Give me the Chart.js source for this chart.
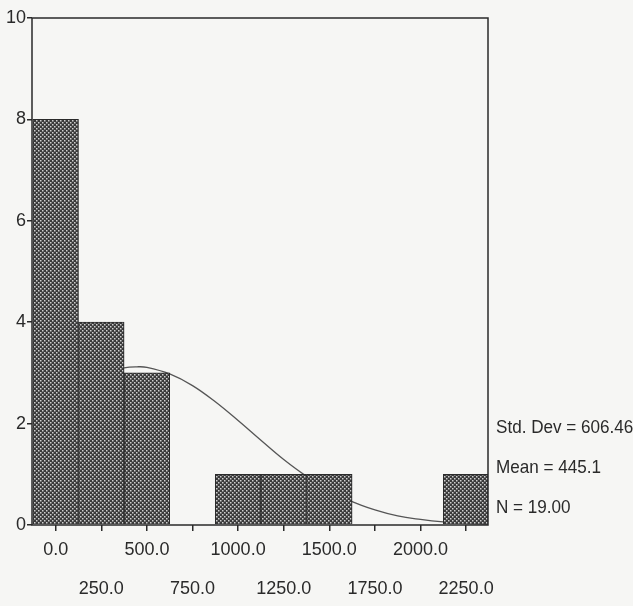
<!DOCTYPE html>
<html>
<head>
<meta charset="utf-8">
<script src="https://cdn.jsdelivr.net/npm/chart.js@4"></script>
<style>
  html, body { margin: 0; padding: 0; background: #f6f6f4; }
  #wrap { width: 633px; height: 606px; }
</style>
</head>
<body>
<div id="wrap"><canvas id="chart" width="633" height="606"></canvas></div>
<script>
// histogram bins (midpoints) and counts
const binMids = [0, 250, 500, 750, 1000, 1250, 1500, 1750, 2000, 2250];
const counts = [8, 4, 3, 0, 1, 1, 1, 0, 0, 1];

// normal curve
const curveX = [-125, 0, 125, 250, 375, 445, 500, 625, 750, 875, 1000, 1125, 1250, 1375, 1500, 1625, 1750, 1875, 2000, 2125, 2250, 2375];
const curveY = [1.9, 2.4, 2.77, 2.99, 3.1, 3.12, 3.11, 2.98, 2.75, 2.43, 2.06, 1.67, 1.29, 0.96, 0.69, 0.46, 0.3, 0.18, 0.11, 0.06, 0.03, 0.01];

const xTicks = [0, 250, 500, 750, 1000, 1250, 1500, 1750, 2000, 2250];
const yTicks = [0, 2, 4, 6, 8, 10];
const statLines = ["Std. Dev = 606.46", "Mean = 445.1", "N = 19.00"];

const FONT = "'Liberation Sans', Arial, sans-serif";
const INK = "#2a2a2a";

function dotPattern() {
  const c = document.createElement("canvas");
  c.width = 4;
  c.height = 4;
  const g = c.getContext("2d");
  g.fillStyle = "#3a3a3a";
  g.fillRect(0, 0, 4, 4);
  g.fillStyle = "#cfcfcf";
  g.fillRect(0, 0, 1.5, 1.5);
  g.fillRect(2, 2, 1.5, 1.5);
  return g.createPattern(c, "repeat");
}

const frame = {
  id: "frame",
  afterDraw(chart) {
    const { ctx, chartArea: a } = chart;
    ctx.save();
    ctx.strokeStyle = INK;
    ctx.lineWidth = 1.5;
    ctx.strokeRect(a.left, a.top, a.right - a.left, a.bottom - a.top);
    // stats block, narrow like the original face
    ctx.fillStyle = INK;
    ctx.font = "19px " + FONT;
    ctx.textBaseline = "middle";
    ctx.textAlign = "left";
    ctx.translate(a.right + 8, 428);
    ctx.scale(0.9, 1);
    statLines.forEach((s, i) => ctx.fillText(s, 0, i * 40));
    ctx.restore();
  },
};

new Chart(document.getElementById("chart"), {
  type: "bar",
  data: {
    datasets: [
      {
        type: "bar",
        data: binMids.map((x, i) => ({ x, y: counts[i] })),
        backgroundColor: dotPattern(),
        borderColor: "#2a2a2a",
        borderWidth: 1,
        barPercentage: 1,
        categoryPercentage: 1,
        order: 1,
      },
      {
        type: "line",
        data: curveX.map((x, i) => ({ x, y: curveY[i] })),
        borderColor: "#555",
        borderWidth: 1.3,
        pointRadius: 0,
        tension: 0.4,
        fill: false,
        order: 2,
      },
    ],
  },
  options: {
    responsive: false,
    animation: false,
    layout: { padding: { left: 0, right: 145, top: 18, bottom: 0 } },
    plugins: { legend: { display: false }, tooltip: { enabled: false } },
    scales: {
      x: {
        type: "linear",
        offset: false,
        min: -130,
        max: 2370,
        afterBuildTicks: (s) => { s.ticks = xTicks.map((v) => ({ value: v })); },
        afterFit: (s) => { s.height = 81; },
        grid: { drawOnChartArea: false, offset: false, tickLength: 6, color: INK, lineWidth: 1.5 },
        border: { display: false },
        ticks: {
          color: INK,
          padding: 0,
          maxRotation: 0,
          autoSkip: false,
          font: { family: FONT, size: 18, lineHeight: 39 / 18 },
          callback: (v) => ((v / 250) % 2 === 0 ? v.toFixed(1) : ["", v.toFixed(1)]),
        },
      },
      y: {
        min: 0,
        max: 10,
        afterBuildTicks: (s) => { s.ticks = yTicks.map((v) => ({ value: v })); },
        afterFit: (s) => { s.width = 32; },
        grid: { drawOnChartArea: false, tickLength: 5, color: INK, lineWidth: 1.5 },
        border: { display: false },
        ticks: {
          color: INK,
          padding: 1,
          font: { family: FONT, size: 18 },
        },
      },
    },
  },
  plugins: [frame],
});
</script>
</body>
</html>
